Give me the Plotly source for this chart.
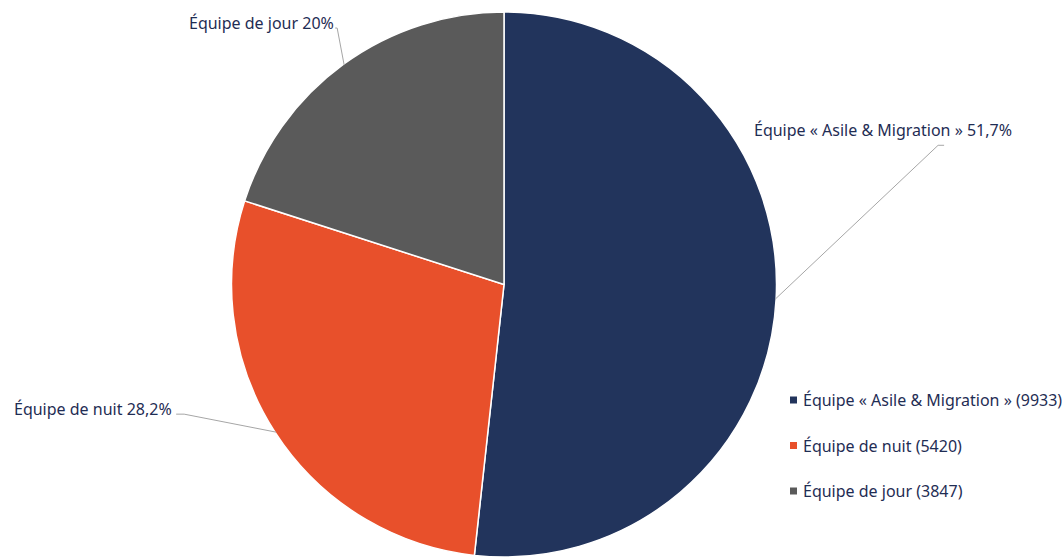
import math
import plotly.graph_objects as go

# Répartition des interventions par équipe
teams = ["Équipe « Asile & Migration »", "Équipe de nuit", "Équipe de jour"]
counts = [9933, 5420, 3847]
colors = ["#22345c", "#e8502b", "#5a5a5a"]

W, H = 1062, 557
CX, CY, R = 504, 284.5, 272.5          # pie centre / radius in pixels
TEXT = "#1f2d54"
FONT = "Noto Sans"
FSIZE = 16

def px(x):
    return x / W

def py(y):
    return 1 - y / H

total = sum(counts)
shares = [c / total for c in counts]

def pct(s):
    v = round(s * 100, 1)
    txt = f"{v:.1f}".rstrip("0").rstrip(".")
    return txt.replace(".", ",") + "%"

fig = go.Figure(go.Pie(
    labels=[f"{t} ({c})" for t, c in zip(teams, counts)],
    values=counts,
    sort=False,
    direction="clockwise",
    rotation=0,
    marker=dict(colors=colors, line=dict(color="white", width=1.5)),
    textinfo="none",
    hoverinfo="label+percent",
    showlegend=False,
    domain=dict(x=[px(CX - R), px(CX + R)], y=[py(CY + R), py(CY - R)]),
))

# leader-line geometry per slice: elbow offset, tail length, text side, text lift, text shift
leaders = [
    (163, -154, 6, "left", -15, 192),
    (-92, -18, -8, "right", -5, -3),
    (-7, -37, -2, "right", -5, 0),
]

shapes, annotations = [], []
cum = 0.0
for team, s, (edx, edy, tdx, side, lift, shift) in zip(teams, shares, leaders):
    mid = (cum + s / 2) * 2 * math.pi
    cum += s
    sx = CX + (R - 1) * math.sin(mid)
    sy = CY - (R - 1) * math.cos(mid)
    ex, ey = sx + edx, sy + edy
    tx, ty = ex + tdx, ey
    shapes.append(dict(
        type="path", xref="paper", yref="paper",
        path=f"M {px(sx)},{py(sy)} L {px(ex)},{py(ey)} L {px(tx)},{py(ty)}",
        line=dict(color="#a6a6a6", width=1),
    ))
    if side == "left":
        ax, xa = tx - shift, "left"
    else:
        ax, xa = tx + 1 + shift, "right"
    annotations.append(dict(
        x=px(ax), y=py(ty + lift), xref="paper", yref="paper",
        xanchor=xa, yanchor="middle", showarrow=False,
        text=f"{team} {pct(s)}",
        font=dict(family=FONT, size=FSIZE, color=TEXT),
    ))

# legend: small coloured squares followed by the label and count
LX, LY0, LDY = 790, 400, 45.5
for i, (team, c, col) in enumerate(zip(teams, counts, colors)):
    y = LY0 + i * LDY
    shapes.append(dict(
        type="rect", xref="paper", yref="paper",
        x0=px(LX), x1=px(LX + 7), y0=py(y + 3.5), y1=py(y - 3.5),
        fillcolor=col, line=dict(width=0),
    ))
    annotations.append(dict(
        x=px(LX + 11), y=py(y), xref="paper", yref="paper",
        xanchor="left", yanchor="middle", showarrow=False,
        text=f"{team} ({c})",
        font=dict(family=FONT, size=FSIZE, color=TEXT),
    ))

fig.update_layout(
    width=W, height=H,
    margin=dict(l=0, r=0, t=0, b=0),
    paper_bgcolor="white",
    plot_bgcolor="white",
    shapes=shapes,
    annotations=annotations,
)

fig.write_html("out.html")
